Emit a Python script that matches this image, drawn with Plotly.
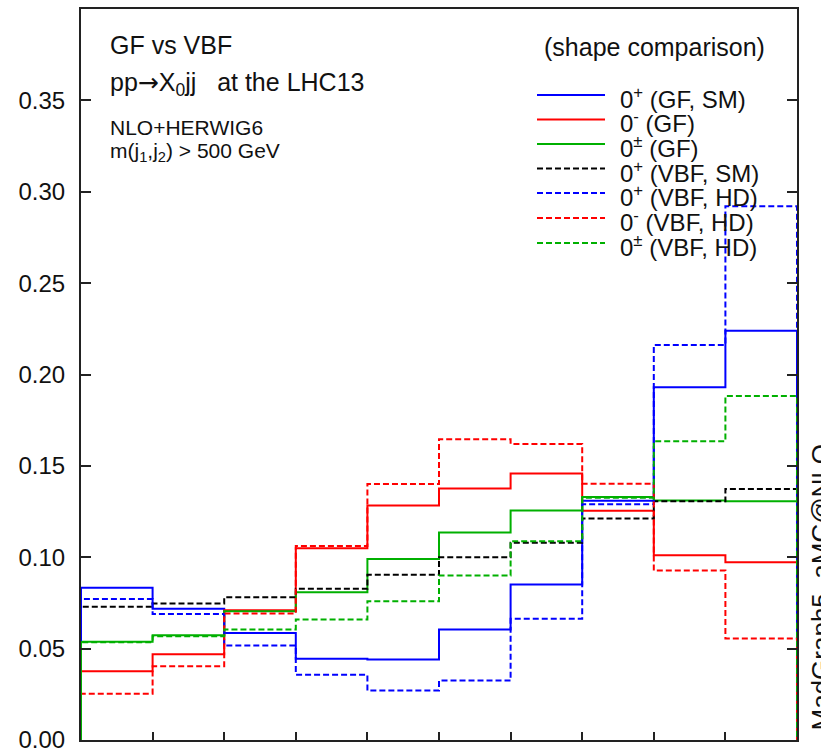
import plotly.graph_objects as go

# ---------------- data ----------------
bin_edges = [0, 1, 2, 3, 4, 5, 6, 7, 8, 9, 10]

gf_sm     = [0.0833, 0.0718, 0.0586, 0.0444, 0.0440, 0.0604, 0.0851, 0.1309, 0.1930, 0.2240]
gf_minus  = [0.0376, 0.0469, 0.0710, 0.1049, 0.1283, 0.1376, 0.1458, 0.1255, 0.1011, 0.0973]
gf_mix    = [0.0537, 0.0573, 0.0705, 0.0809, 0.0991, 0.1135, 0.1256, 0.1330, 0.1311, 0.1306]
vbf_sm    = [0.0729, 0.0747, 0.0781, 0.0827, 0.0904, 0.1000, 0.1079, 0.1212, 0.1306, 0.1374]
vbf_plus  = [0.0772, 0.0690, 0.0517, 0.0357, 0.0271, 0.0325, 0.0663, 0.1290, 0.2162, 0.2920]
vbf_minus = [0.0253, 0.0404, 0.0692, 0.1062, 0.1401, 0.1646, 0.1620, 0.1402, 0.0927, 0.0555]
vbf_mix   = [0.0535, 0.0568, 0.0605, 0.0659, 0.0759, 0.0900, 0.1088, 0.1325, 0.1635, 0.1883]

series_labels = [
    "0<sup>+</sup> (GF, SM)",
    "0<sup>-</sup> (GF)",
    "0<sup>±</sup> (GF)",
    "0<sup>+</sup> (VBF, SM)",
    "0<sup>+</sup> (VBF, HD)",
    "0<sup>-</sup> (VBF, HD)",
    "0<sup>±</sup> (VBF, HD)",
]
series_values = [gf_sm, gf_minus, gf_mix, vbf_sm, vbf_plus, vbf_minus, vbf_mix]
series_colors = ["#0000ff", "#ff0000", "#00b000", "#000000", "#0000ff", "#ff0000", "#00b000"]
series_dash = ["solid", "solid", "solid", "6px,3px", "6px,3px", "6px,3px", "6px,3px"]

y_ticks = [0.00, 0.05, 0.10, 0.15, 0.20, 0.25, 0.30, 0.35]

# ---------------- figure ----------------
FONT = "Liberation Sans, Arial, Helvetica, sans-serif"
W, H = 821, 751
L, R, T, B = 81, 24, 9, 11
PW, PH = W - L - R, H - T - B


def px(x):
    return (x - L) / PW


def py(y):
    return (H - B - y) / PH


fig = go.Figure()

for vals, col, dash in zip(series_values, series_colors, series_dash):
    xs = [bin_edges[0]] + bin_edges[:-1] + [bin_edges[-1], bin_edges[-1]]
    ys = [0] + vals + [vals[-1], 0]
    fig.add_trace(go.Scatter(x=xs, y=ys, mode="lines", line_shape="hv",
                             line=dict(color=col, width=2, dash=dash),
                             showlegend=False, hoverinfo="skip"))

# manual legend
row_y = [95, 119.5, 144, 168.5, 193, 218, 243]
for lab, col, dash, yy in zip(series_labels, series_colors, series_dash, row_y):
    fig.add_shape(type="line", xref="paper", yref="paper",
                  x0=px(537), x1=px(605), y0=py(yy), y1=py(yy),
                  line=dict(color=col, width=2, dash=dash))
    fig.add_annotation(xref="paper", yref="paper", x=px(618), y=py(yy + 3),
                       xanchor="left", yanchor="middle", text=lab, showarrow=False,
                       font=dict(family=FONT, size=24, color="#111"))

arrow = '<span style="font-family:DejaVu Sans">\u2192</span>'
texts = [
    ("GF vs VBF", 108, 45, 25, "left"),
    ("pp" + arrow + "X<sub>0</sub>jj\u00a0\u00a0\u00a0at the LHC13", 108, 84, 25, "left"),
    ("NLO+HERWIG6", 108, 128, 21, "left"),
    ("m(j<sub>1</sub>,j<sub>2</sub>) > 500 GeV", 108, 152, 21, "left"),
    ("(shape comparison)", 767, 47, 25, "right"),
]
for t, x, y, s, anc in texts:
    fig.add_annotation(xref="paper", yref="paper", x=px(x), y=py(y),
                       xanchor=anc, yanchor="middle", text=t, showarrow=False,
                       font=dict(family=FONT, size=s, color="#111"))

fig.add_annotation(xref="paper", yref="paper", x=px(803), y=py(442),
                   xanchor="left", yanchor="top", textangle=-90,
                   text="MadGraph5_aMC@NLO", showarrow=False,
                   font=dict(family=FONT, size=26, color="#111"))

fig.update_layout(
    width=W, height=H,
    margin=dict(l=L, r=R, t=T, b=B, pad=0, autoexpand=False),
    plot_bgcolor="white", paper_bgcolor="white",
    font=dict(family=FONT, size=24, color="#111"),
)
fig.update_xaxes(range=[bin_edges[0], bin_edges[-1]], tickvals=bin_edges,
                 showticklabels=False, ticks="inside", ticklen=8, tickwidth=1.5,
                 tickcolor="#222", showline=True, linecolor="#222", linewidth=2,
                 mirror=True, showgrid=False, zeroline=False, automargin=False)
fig.update_yaxes(range=[0, 0.40], tickvals=y_ticks,
                 ticktext=[f"{v:.2f}" for v in y_ticks],
                 ticks="inside", ticklen=10, tickwidth=1.5, tickcolor="#222",
                 ticklabelstandoff=9, ticklabeloverflow="allow", automargin=False,
                 showline=True, linecolor="#222", linewidth=2, mirror="ticks",
                 showgrid=False, zeroline=False,
                 tickfont=dict(family=FONT, size=24, color="#111"))

fig.write_html("out.html")
